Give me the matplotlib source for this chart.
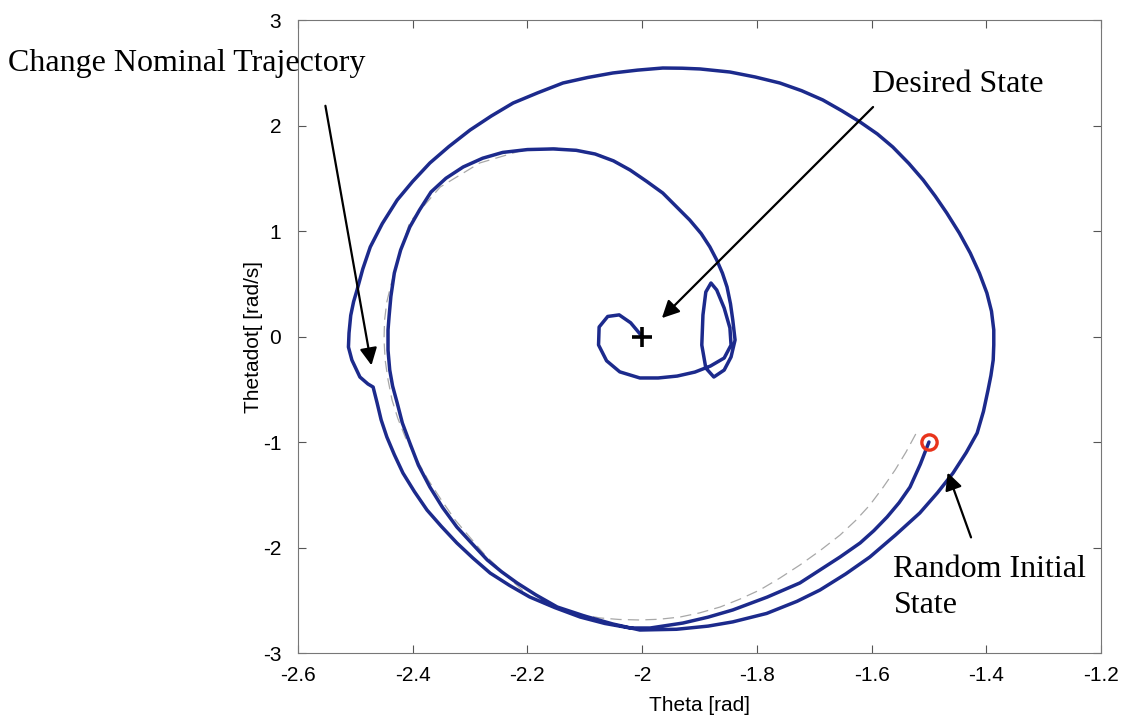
import matplotlib
matplotlib.use('Agg')
import matplotlib.pyplot as plt

theta = [-1.500, -1.515, -1.533, -1.552, -1.573, -1.596, -1.620, -1.655, -1.690, -1.725,
         -1.782, -1.842, -1.885, -1.929, -1.986,
         -2.021, -2.065, -2.108, -2.152, -2.196, -2.231, -2.265, -2.295, -2.323, -2.350,
         -2.375, -2.397, -2.417, -2.432, -2.445, -2.455, -2.462, -2.469,
         -2.478, -2.492, -2.506, -2.512, -2.511, -2.508, -2.503, -2.497, -2.487, -2.474,
         -2.453, -2.427, -2.400, -2.370, -2.337, -2.300, -2.263, -2.225, -2.182, -2.138,
         -2.095, -2.051, -2.008, -1.964, -1.930, -1.899, -1.847, -1.803, -1.760, -1.722,
         -1.685, -1.652, -1.620, -1.590, -1.563, -1.535, -1.510, -1.489, -1.469, -1.447,
         -1.428, -1.412, -1.399, -1.391, -1.387, -1.387, -1.388, -1.392, -1.397, -1.405,
         -1.416, -1.435, -1.458, -1.485, -1.516, -1.558, -1.603, -1.645, -1.690, -1.730,
         -1.783, -1.842, -1.885, -1.940, -2.004,
         -2.051, -2.100, -2.148, -2.185, -2.218, -2.245, -2.270, -2.297, -2.323, -2.348,
         -2.370, -2.390, -2.405, -2.418, -2.427, -2.435, -2.440, -2.443, -2.443, -2.441,
         -2.438, -2.432, -2.421, -2.405, -2.388, -2.368, -2.342, -2.312, -2.278, -2.243,
         -2.200, -2.155, -2.115, -2.082, -2.050, -2.021, -1.992, -1.964, -1.940, -1.917,
         -1.897, -1.882, -1.870, -1.860, -1.852, -1.846, -1.842, -1.838,
         -1.845, -1.857, -1.875, -1.889, -1.896, -1.894, -1.889, -1.880, -1.870, -1.857,
         -1.847, -1.845, -1.857, -1.881, -1.908, -1.939, -1.972, -2.004, -2.039, -2.062,
         -2.076, -2.075, -2.060, -2.040, -2.020, -2.000]
thetadot = [-1.000, -1.210, -1.427, -1.575, -1.711, -1.840, -1.957, -2.090, -2.213, -2.336,
            -2.470, -2.592, -2.660, -2.716, -2.763,
            -2.763, -2.720, -2.659, -2.570, -2.469, -2.360, -2.242, -2.100, -1.957, -1.800,
            -1.645, -1.470, -1.294, -1.120, -0.953, -0.790, -0.630, -0.479,
            -0.450, -0.384, -0.223, -0.100, 0.033, 0.200, 0.330, 0.441, 0.640, 0.848,
            1.070, 1.294, 1.470, 1.645, 1.800, 1.957, 2.090, 2.213, 2.310, 2.403,
            2.455, 2.498, 2.525, 2.545, 2.543, 2.536, 2.507, 2.460, 2.403, 2.330,
            2.242, 2.140, 2.033, 1.920, 1.796, 1.640, 1.483, 1.330, 1.171, 0.980,
            0.791, 0.600, 0.412, 0.240, 0.062, -0.080, -0.223, -0.370, -0.507, -0.710,
            -0.915, -1.100, -1.294, -1.480, -1.673, -1.880, -2.090, -2.250, -2.403, -2.510,
            -2.625, -2.705, -2.745, -2.775, -2.782,
            -2.725, -2.650, -2.564, -2.450, -2.336, -2.230, -2.118, -1.960, -1.806, -1.620,
            -1.427, -1.220, -1.009, -0.820, -0.630, -0.470, -0.318, -0.130, 0.062, 0.200,
            0.380, 0.602, 0.820, 1.038, 1.200, 1.370, 1.500, 1.607, 1.690, 1.745,
            1.772, 1.778, 1.765, 1.730, 1.665, 1.578, 1.470, 1.360, 1.230, 1.104,
            0.975, 0.850, 0.725, 0.600, 0.469, 0.310, 0.156, -0.033,
            -0.194, -0.318, -0.384, -0.299, -0.081, 0.204, 0.422, 0.507, 0.441, 0.270,
            0.081, -0.081, -0.204, -0.280, -0.337, -0.375, -0.393, -0.393, -0.335, -0.230,
            -0.080, 0.090, 0.190, 0.205, 0.130, 0.000]

# nominal trajectory (gray dashed)
nom_theta = [-1.523, -1.540, -1.559, -1.580, -1.603, -1.628, -1.655, -1.690, -1.725,
             -1.760, -1.795, -1.830, -1.864, -1.900, -1.934, -1.970, -2.004, -2.040,
             -2.073, -2.108, -2.143, -2.170, -2.196, -2.236, -2.274, -2.300, -2.326,
             -2.350, -2.373, -2.394, -2.413, -2.426, -2.436, -2.443, -2.448, -2.450,
             -2.449, -2.445, -2.438, -2.431, -2.405, -2.352, -2.283, -2.213, -2.152,
             -2.073, -2.021, -1.964, -1.917]
nom_thetadot = [-0.924, -1.095, -1.265, -1.430, -1.597, -1.745, -1.882, -2.030, -2.166,
                -2.290, -2.403, -2.490, -2.564, -2.620, -2.659, -2.680, -2.687, -2.682,
                -2.668, -2.635, -2.592, -2.535, -2.469, -2.270, -2.071, -1.905, -1.739,
                -1.550, -1.360, -1.155, -0.953, -0.775, -0.602, -0.410, -0.223, -0.030,
                0.156, 0.330, 0.488, 0.630, 1.085, 1.417, 1.645, 1.758, 1.787,
                1.720, 1.578, 1.360, 1.104]

start = (-1.5, -1.0)
goal = (-2.0, 0.0)

xticks = [-2.6, -2.4, -2.2, -2.0, -1.8, -1.6, -1.4, -1.2]
xticklabels = ['-2.6', '-2.4', '-2.2', '-2', '-1.8', '-1.6', '-1.4', '-1.2']
yticks = [-3, -2, -1, 0, 1, 2, 3]
yticklabels = ['-3', '-2', '-1', '0', '1', '2', '3']

plt.rcParams['font.family'] = ['Liberation Sans', 'DejaVu Sans']

fig = plt.figure(figsize=(11.21, 7.25), dpi=100)
ax = fig.add_axes([0.2658, 0.0993, 0.7164, 0.8731])

ax.plot(nom_theta, nom_thetadot, color='#a8a8a8', lw=0.9, ls=(0, (9, 5)), zorder=2)
ax.plot(theta, thetadot, color='#1c2a8c', lw=2.5, zorder=3,
        solid_joinstyle='round', solid_capstyle='round')
ax.plot(start[0], start[1], 'o', mfc='none', mec='#e8341c', ms=11, mew=2.4, zorder=4)
ax.plot(goal[0], goal[1], '+', color='black', ms=15, mew=2.6, zorder=5)

ax.set_xlim(-2.6, -1.2)
ax.set_ylim(-3, 3)
ax.set_xticks(xticks)
ax.set_xticklabels(xticklabels)
ax.set_yticks(yticks)
ax.set_yticklabels(yticklabels)
ax.tick_params(direction='in', length=6, width=0.8, top=True, right=True,
               labelsize=15, colors='#555555', labelcolor='black')
ax.tick_params(axis='x', pad=9)
ax.tick_params(axis='y', pad=12)
for s in ax.spines.values():
    s.set_color('#777777')
    s.set_linewidth(0.8)

ax.set_xlabel('Theta [rad]', fontsize=15, labelpad=8)
ax.set_ylabel('Thetadot[ [rad/s]', fontsize=15, labelpad=0)

arrow = dict(arrowstyle='-|>', mutation_scale=26, lw=1.6, color='black')
ax.annotate('', xy=(-2.471, -0.299), xytext=(-2.553, 2.213), arrowprops=arrow, zorder=6)
ax.annotate('', xy=(-1.969, 0.156), xytext=(-1.594, 2.194), arrowprops=arrow, zorder=6)
ax.annotate('', xy=(-1.469, -1.265), xytext=(-1.425, -1.929), arrowprops=arrow, zorder=6)

serif = ['Liberation Serif', 'DejaVu Serif']
fig.text(0.007, 0.912, 'Change Nominal Trajectory', family=serif, fontsize=23, va='center')
fig.text(0.778, 0.883, 'Desired State', family=serif, fontsize=23, va='center')
fig.text(0.797, 0.2138, 'Random Initial', family=serif, fontsize=23, va='center')
fig.text(0.797, 0.1655, 'State', family=serif, fontsize=23, va='center')

fig.savefig('out.png', dpi=100)
